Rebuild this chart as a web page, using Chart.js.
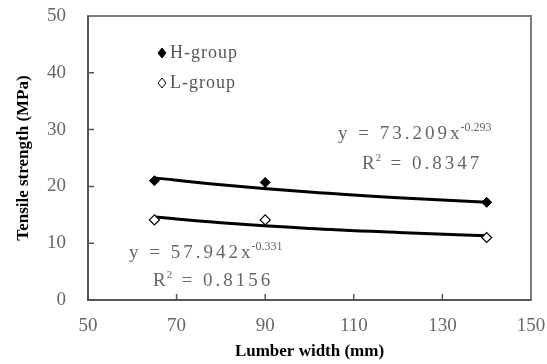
<!DOCTYPE html>
<html>
<head>
    <meta charset="utf-8">
    <script src="https://cdn.jsdelivr.net/npm/chart.js"></script>
    <style>
        body { margin: 0; background: #fff; }
        #wrap { width: 547px; height: 364px; }
    </style>
</head>
<body>
    <div id="wrap"><canvas id="myChart" width="547" height="364"></canvas></div>
    <script>
        // lumber widths (mm)
        const widths = [65, 90, 140];
        // measured tensile strength (MPa)
        const hGroup = [21.0, 20.7, 17.2];
        const lGroup = [14.1, 14.1, 11.0];
        // power trend lines as drawn in the picture
        const trendX = [65, 80, 100, 120, 140];
        const hTrend = [21.5, 20.3, 19.0, 18.0, 17.2];
        const lTrend = [14.6, 13.6, 12.6, 11.9, 11.3];
        const xTicks = [50, 70, 90, 110, 130, 150];
        const yTicks = [0, 10, 20, 30, 40, 50];
        const hEq = ['y = 73.209x', '-0.293', 'R', '2', ' = 0.8347'];
        const lEq = ['y = 57.942x', '-0.331', 'R', '2', ' = 0.8156'];

        const pts = (xs, ys) => xs.map((x, i) => ({ x: x, y: ys[i] }));
        const serif = '"Liberation Serif", "DejaVu Serif", serif';
        const noPad = s => { s.paddingTop = 0; s.paddingBottom = 0; s.paddingLeft = 0; s.paddingRight = 0; };

        // frame, inward ticks, legend and equations
        const extras = {
            id: 'extras',
            afterDraw(chart) {
                const ctx = chart.ctx;
                const a = chart.chartArea;
                const xs = chart.scales.x, ys = chart.scales.y;
                ctx.save();
                ctx.strokeStyle = '#7a7a7a';
                ctx.lineWidth = 2;
                ctx.strokeRect(a.left, a.top, a.right - a.left, a.bottom - a.top);
                ctx.strokeStyle = '#555';
                ctx.beginPath();
                ctx.moveTo(a.left, a.top); ctx.lineTo(a.left, a.bottom); ctx.lineTo(a.right, a.bottom);
                ctx.stroke();
                ctx.lineWidth = 1.5;
                ctx.beginPath();
                xTicks.slice(1, -1).forEach(v => {
                    const px = xs.getPixelForValue(v);
                    ctx.moveTo(px, a.bottom); ctx.lineTo(px, a.bottom - 6);
                });
                yTicks.slice(1, -1).forEach(v => {
                    const py = ys.getPixelForValue(v);
                    ctx.moveTo(a.left, py); ctx.lineTo(a.left + 6, py);
                });
                ctx.stroke();

                // legend
                ctx.font = '18px ' + serif;
                ctx.letterSpacing = '1px';
                ctx.textBaseline = 'middle';
                const leg = [[chart.data.datasets[0], 53], [chart.data.datasets[1], 83]];
                leg.forEach(([ds, y]) => {
                    const mx = 162;
                    ctx.beginPath();
                    ctx.moveTo(mx, y - 5); ctx.lineTo(mx + 4, y); ctx.lineTo(mx, y + 5); ctx.lineTo(mx - 4, y); ctx.closePath();
                    ctx.fillStyle = ds.pointBackgroundColor;
                    ctx.fill();
                    ctx.strokeStyle = '#000'; ctx.lineWidth = 1;
                    ctx.stroke();
                    ctx.fillStyle = '#555';
                    ctx.fillText(ds.label, 170, y);
                });

                // equations
                const eq = (t, x1, y1, x2, y2) => {
                    ctx.font = '19px ' + serif;
                    ctx.letterSpacing = '3px';
                    ctx.fillStyle = '#666';
                    ctx.fillText(t[0], x1, y1);
                    let w = ctx.measureText(t[0]).width;
                    ctx.font = '12px ' + serif;
                    ctx.letterSpacing = '0px';
                    ctx.fillText(t[1], x1 + w - 2, y1 - 6);
                    ctx.font = '19px ' + serif;
                    ctx.letterSpacing = '3px';
                    ctx.fillText(t[2], x2, y2);
                    w = ctx.measureText(t[2]).width;
                    ctx.font = '11px ' + serif;
                    ctx.letterSpacing = '0px';
                    ctx.fillText(t[3], x2 + w - 2, y2 - 6);
                    ctx.font = '19px ' + serif;
                    ctx.letterSpacing = '3px';
                    ctx.fillText(t[4], x2 + w + 5, y2);
                };
                eq(hEq, 338, 134, 362, 164);
                eq(lEq, 129, 253, 153, 281);
                ctx.restore();
            }
        };

        const data = {
            datasets: [
                {
                    label: 'H-group', data: pts(widths, hGroup), showLine: false,
                    pointStyle: 'rectRot', pointRadius: 5, pointBackgroundColor: '#000', pointBorderColor: '#000'
                },
                {
                    label: 'L-group', data: pts(widths, lGroup), showLine: false,
                    pointStyle: 'rectRot', pointRadius: 5, pointBackgroundColor: '#fff', pointBorderColor: '#000', pointBorderWidth: 1.2
                },
                {
                    label: 'H trend', data: pts(trendX, hTrend), showLine: true, pointRadius: 0,
                    borderColor: '#000', borderWidth: 3, cubicInterpolationMode: 'monotone'
                },
                {
                    label: 'L trend', data: pts(trendX, lTrend), showLine: true, pointRadius: 0,
                    borderColor: '#000', borderWidth: 3, cubicInterpolationMode: 'monotone'
                }
            ]
        };

        const config = {
            type: 'scatter',
            data: data,
            options: {
                responsive: false,
                animation: false,
                layout: { padding: { top: 16, right: 16, left: 0, bottom: 0 } },
                plugins: { legend: { display: false }, tooltip: { enabled: false } },
                scales: {
                    x: {
                        type: 'linear', min: 50, max: 150,
                        afterBuildTicks: s => { s.ticks = xTicks.map(v => ({ value: v })); },
                        afterFit: s => { s.height = 64; noPad(s); },
                        grid: { display: false }, border: { display: false },
                        ticks: { color: '#666', padding: 7, font: { family: serif, size: 19 } },
                        title: {
                            display: true, text: 'Lumber width (mm)', color: '#000',
                            font: { family: serif, size: 17, weight: 'bold' }, padding: { bottom: 2 }
                        }
                    },
                    y: {
                        min: 0, max: 50,
                        afterBuildTicks: s => { s.ticks = yTicks.map(v => ({ value: v })); },
                        afterFit: s => { s.width = 88; noPad(s); },
                        grid: { display: false }, border: { display: false },
                        ticks: { color: '#666', padding: 14, font: { family: serif, size: 19 } },
                        title: {
                            display: true, text: 'Tensile strength (MPa)', color: '#000',
                            font: { family: serif, size: 17, weight: 'bold' }, padding: { top: 13 }
                        }
                    }
                }
            },
            plugins: [extras]
        };

        const myChart = new Chart(document.getElementById('myChart'), config);
    </script>
</body>
</html>
